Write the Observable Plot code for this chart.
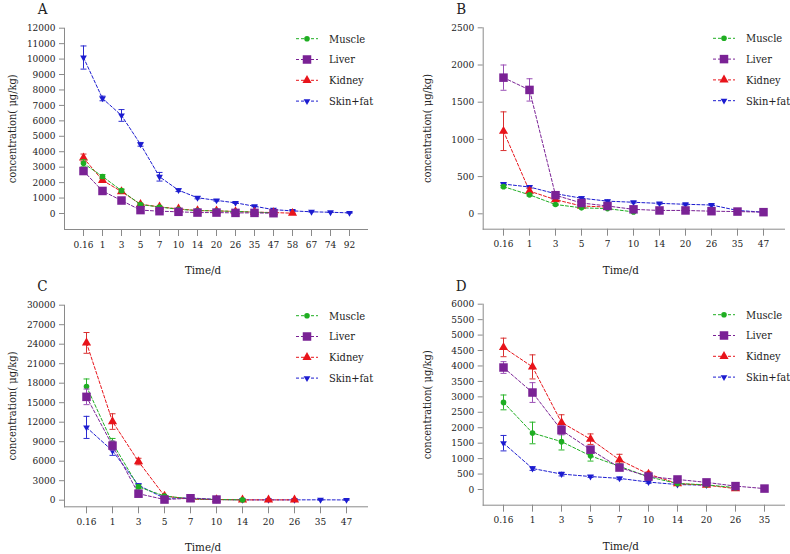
<!DOCTYPE html>
<html><head><meta charset="utf-8">
<script src="https://cdn.jsdelivr.net/npm/d3@7"></script>
<script src="https://cdn.jsdelivr.net/npm/@observablehq/plot@0.6"></script>
<style>
body{margin:0;background:#fff}
#wrap{position:relative;width:790px;height:554px;overflow:hidden}
.panel{position:absolute;width:395px;height:277px}
.panel svg{position:absolute;left:0;top:0}
.panel svg text{font-stretch:condensed}
</style>
</head><body><div id="wrap"></div>
<script>
// ---------- data ----------
const seriesNames = ["Muscle", "Liver", "Kidney", "Skin+fat"];
const yLabel = "concentration( μg/kg)";
const xLabel = "Time/d";

// Panel A
const xA = ["0.16","1","3","5","7","10","14","20","26","35","47","58","67","74","92"];
const muscleA = [3250, 2400, 1480, 580, 420, 270, 190, 170, 130, 90, 40, null, null, null, null];
const sdMuscleA = [230, 120, 110, 60, 50, 40, 30, 20, 20, 15, 10];
const liverA = [2750, 1460, 840, 220, 150, 110, 60, 60, 40, 40, 20, null, null, null, null];
const sdLiverA = [120, 80, 60, 40, 30, 20, 10, 10, 10, 10, 5];
const kidneyA = [3600, 2150, 1420, 600, 430, 300, 190, 170, 130, 90, 60, 20, null, null, null];
const sdKidneyA = [250, 100, 120, 60, 40, 30, 20, 20, 15, 10, 10, 5];
const skinA = [10100, 7450, 6350, 4480, 2380, 1510, 1020, 850, 690, 470, 250, 170, 110, 80, 40];
const sdSkinA = [750, 150, 380, 120, 280, 90, 70, 50, 40, 30, 20, 15, 10, 10, 10];

// Panel B
const xB = ["0.16","1","3","5","7","10","14","20","26","35","47"];
const muscleB = [365, 255, 125, 80, 70, 25, null, null, null, null, null];
const sdMuscleB = [15, 15, 10, 8, 8, 5];
const liverB = [1830, 1665, 250, 145, 105, 60, 45, 45, 35, 30, 22];
const sdLiverB = [170, 150, 30, 20, 15, 10, 8, 8, 8, 8, 5];
const kidneyB = [1110, 305, 190, 105, 90, null, null, null, null, null, null];
const sdKidneyB = [260, 40, 25, 15, 10];
const skinB = [400, 360, 270, 210, 170, 155, 140, 128, 118, 45, 22];
const sdSkinB = [15, 15, 20, 20, 15, 10, 10, 10, 10, 8, 5];

// Panel C
const xC = ["0.16","1","3","5","7","10","14","20","26","35","47"];
const muscleC = [17500, 8800, 2050, 650, 200, 100, 50, null, null, null, null];
const sdMuscleC = [1150, 700, 300, 80, 40, 20, 10];
const liverC = [15900, 8400, 1000, 100, 300, 100, null, null, null, null, null];
const sdLiverC = [1200, 700, 150, 40, 40, 20];
const kidneyC = [24200, 12100, 5950, 650, 150, 100, 50, 50, 50, null, null];
const sdKidneyC = [1600, 1200, 500, 80, 30, 20, 10, 10, 10];
const skinC = [11200, 7600, 2300, 300, 350, 100, 50, 50, 50, 60, 40];
const sdSkinC = [1700, 700, 200, 50, 40, 20, 10, 10, 10, 10, 10];

// Panel D
const xD = ["0.16","1","3","5","7","10","14","20","26","35"];
const muscleD = [2820, 1830, 1550, 1090, 750, 410, 195, 150, 60, null];
const sdMuscleD = [240, 350, 270, 170, 80, 60, 30, 20, 15];
const liverD = [3950, 3140, 1920, 1290, 710, 420, 325, 230, 110, 30];
const sdLiverD = [190, 320, 150, 100, 60, 40, 30, 30, 20, 10];
const kidneyD = [4600, 3970, 2170, 1630, 960, 500, 190, 140, 30, null];
const sdKidneyD = [300, 390, 250, 170, 180, 70, 30, 20, 10];
const skinD = [1500, 680, 500, 420, 360, 240, 160, 140, null, null];
const sdSkinD = [250, 60, 60, 30, 40, 40, 20, 20];

// ---------- styling ----------
const FONT = "'DejaVu Serif', serif";
const colors = ["#1fae22", "#7a2295", "#e8141b", "#1c1cd0"];
const errColors = ["#2bb52b", "#9a4fb5", "#d93030", "#2a2ad0"];
const triDown = {draw(ctx, size) {
  const y = -Math.sqrt(size / (Math.sqrt(3) * 3));
  ctx.moveTo(0, -y * 2); ctx.lineTo(-Math.sqrt(3) * y, y); ctx.lineTo(Math.sqrt(3) * y, y); ctx.closePath();
}};
const capSym = {draw(ctx) { ctx.moveTo(-3, 0); ctx.lineTo(3, 0); }};
const symbols = [d3.symbolCircle, d3.symbolSquare, d3.symbolTriangle, triDown];
const radii = [2.8, 4.8, 3.4, 2.5];
const axisColor = "#8a8a8a";
const textColor = "#222";

const panels = [
  {letter: "A", left: 0, top: 0, x: xA, values: [muscleA, liverA, kidneyA, skinA], sd: [sdMuscleA, sdLiverA, sdKidneyA, sdSkinA],
   yMax: 12000, yStep: 1000, mL: 64, mR: 28, mT: 27.7, mB: 48, inset: 13, insetB: 16},
  {letter: "B", left: 395, top: 0, x: xB, values: [muscleB, liverB, kidneyB, skinB], sd: [sdMuscleB, sdLiverB, sdKidneyB, sdSkinB],
   yMax: 2500, yStep: 500, mL: 87.7, mR: 6, mT: 27.3, mB: 48.3, inset: 17, insetB: 15.4},
  {letter: "C", left: 0, top: 277, x: xC, values: [muscleC, liverC, kidneyC, skinC], sd: [sdMuscleC, sdLiverC, sdKidneyC, sdSkinC],
   yMax: 30000, yStep: 3000, mL: 64, mR: 28, mT: 27.7, mB: 47.7, inset: 18.5, insetB: 6.6},
  {letter: "D", left: 395, top: 277, x: xD, values: [muscleD, liverD, kidneyD, skinD], sd: [sdMuscleD, sdLiverD, sdKidneyD, sdSkinD],
   yMax: 6000, yStep: 500, mL: 87.7, mR: 6, mT: 26.7, mB: 49.3, inset: 19, insetB: 15.7}
];

const W = 395, H = 277;
const wrap = document.getElementById("wrap");

function makePanel(p) {
  const data = [];
  p.values.forEach((vals, s) => vals.forEach((v, i) => {
    if (v != null) data.push({s, x: p.x[i], y: v, sd: (p.sd[s][i] ?? 0)});
  }));
  const marks = [
    Plot.frame({anchor: "left", stroke: axisColor}),
    Plot.frame({anchor: "bottom", stroke: axisColor}),
    Plot.axisX({tickSize: 7, tickPadding: 4, label: null, stroke: axisColor, fill: textColor, fontSize: 10}),
    Plot.axisY({ticks: d3.range(0, p.yMax + 1, p.yStep), tickFormat: d => String(d), tickSize: 5, tickPadding: 4, label: null, stroke: axisColor, fill: textColor, fontSize: 10})
  ];
  const order = [3, 2, 0, 1];
  for (const s of order) {
    const d = data.filter(e => e.s === s);
    marks.push(Plot.line(d, {x: "x", y: "y", stroke: colors[s], strokeWidth: 1, strokeDasharray: "3,2"}));
  }
  for (const s of order) {
    const d = data.filter(e => e.s === s);
    marks.push(Plot.ruleX(d, {x: "x", y1: e => Math.max(0, e.y - e.sd), y2: e => e.y + e.sd, stroke: errColors[s], strokeWidth: 1}));
    marks.push(Plot.dot(d, {x: "x", y: e => Math.max(0, e.y - e.sd), symbol: capSym, r: 3, fill: "none", stroke: errColors[s], strokeWidth: 1}));
    marks.push(Plot.dot(d, {x: "x", y: e => e.y + e.sd, symbol: capSym, r: 3, fill: "none", stroke: errColors[s], strokeWidth: 1}));
    marks.push(Plot.dot(d, {x: "x", y: "y", symbol: symbols[s], r: radii[s], fill: colors[s], stroke: "none"}));
  }
  marks.push(Plot.text([yLabel], {frameAnchor: "left", dx: p.letter === "A" || p.letter === "C" ? -52 : -56, rotate: -90, textAnchor: "middle", lineAnchor: "middle", fontSize: 11, fill: textColor}));
  marks.push(Plot.text([xLabel], {frameAnchor: "bottom", dx: -13, dy: 41, textAnchor: "middle", lineAnchor: "middle", fontSize: 11.5, fill: textColor}));
  marks.push(Plot.text([p.letter], {frameAnchor: "top-left", dx: -22, dy: 8.3 - p.mT, textAnchor: "middle", lineAnchor: "middle", fontSize: 15, fill: textColor}));

  const chart = Plot.plot({
    width: W, height: H,
    marginLeft: p.mL, marginRight: p.mR, marginTop: p.mT, marginBottom: p.mB,
    x: {type: "point", domain: p.x, padding: 0, insetLeft: p.inset, insetRight: p.inset},
    y: {domain: [0, p.yMax], insetBottom: p.insetB},
    style: {fontFamily: FONT, fontSize: "10px", color: textColor, background: "transparent"},
    marks
  });

  const div = document.createElement("div");
  div.className = "panel";
  div.style.left = p.left + "px";
  div.style.top = p.top + "px";
  div.appendChild(chart);

  // legend overlay
  const R = W - p.mR;
  const leg = d3.create("svg").attr("width", W).attr("height", H)
    .style("font-family", FONT).style("font-size", "11px");
  seriesNames.forEach((name, s) => {
    const y = p.mT + 11 + s * 20.8;
    leg.append("line").attr("x1", R - 71).attr("x2", R - 49).attr("y1", y).attr("y2", y)
      .attr("stroke", colors[s]).attr("stroke-width", 1).attr("stroke-dasharray", "3,2");
    leg.append("path").attr("d", d3.symbol(symbols[s], Math.PI * radii[s] * radii[s])())
      .attr("transform", `translate(${R - 60},${y})`).attr("fill", colors[s]);
    leg.append("text").attr("x", R - 38).attr("y", y).attr("dy", "0.35em").attr("fill", textColor).text(name);
  });
  div.appendChild(leg.node());
  wrap.appendChild(div);
}

panels.forEach(makePanel);
</script>
</body></html>
